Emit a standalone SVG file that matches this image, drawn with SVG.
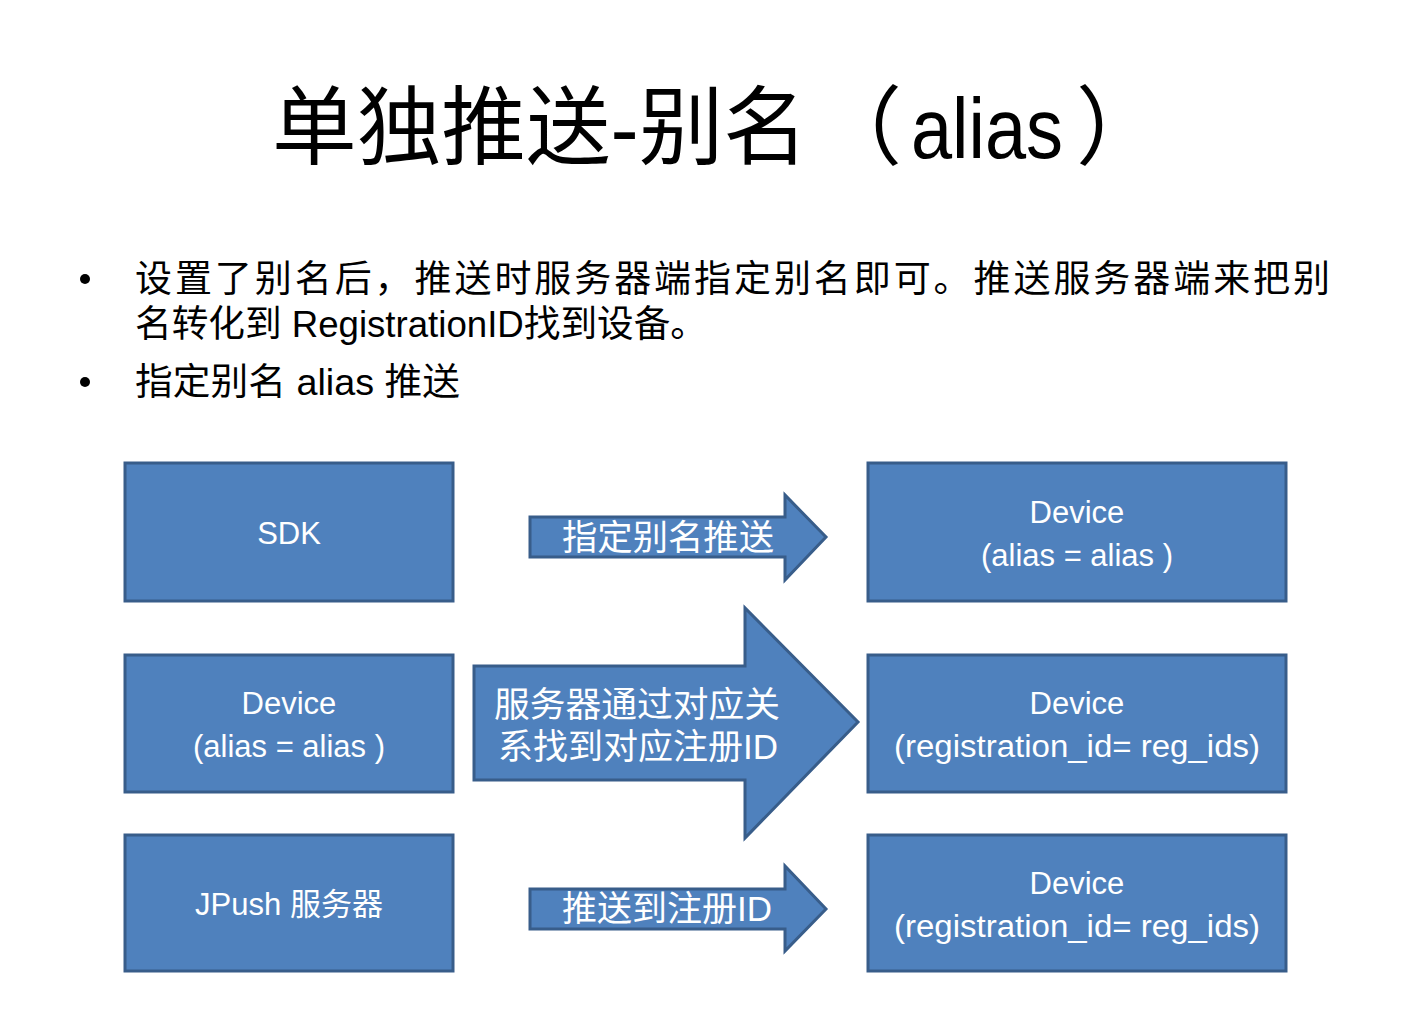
<svg xmlns="http://www.w3.org/2000/svg" width="1415" height="1035" viewBox="0 0 1415 1035">
<style>
.box{fill:#4F81BD;stroke:#385D8A;stroke-width:3}
.arr{fill:#4F81BD;stroke:#385D8A;stroke-width:3;stroke-linejoin:miter}
.t{font-family:"Liberation Sans","Noto Sans CJK SC",sans-serif}
.w{fill:#FFFFFF;font-size:31px;text-anchor:middle}
.aw{fill:#FFFFFF;font-size:35px}
.b{fill:#000000;font-size:37px}
.ti{fill:#000000;font-size:86px}
</style>
<rect width="1415" height="1035" fill="#FFFFFF"/>
<g id="title">
<text class="t ti" x="272" y="158" textLength="536" lengthAdjust="spacingAndGlyphs">单独推送-别名</text>
<text class="t ti" x="816" y="158">（</text>
<text class="t ti" transform="translate(911 158) scale(0.86 1)">alias</text>
<text class="t ti" x="1076" y="158">）</text>
</g>
<circle cx="85" cy="279" r="5" fill="#000"/>
<circle cx="85" cy="382" r="5" fill="#000"/>
<text class="t b" x="135" y="292" textLength="1195" lengthAdjust="spacing">设置了别名后，推送时服务器端指定别名即可。推送服务器端来把别</text>
<text class="t b" x="135" y="337" textLength="572" lengthAdjust="spacingAndGlyphs">名转化到 RegistrationID找到设备。</text>
<text class="t b" x="135" y="395" textLength="325" lengthAdjust="spacingAndGlyphs">指定别名 alias 推送</text>
<g id="connectors">
<path id="arrow1" class="arr" d="M530 517 H785 V495 L826 537 L785 580 V557 H530 Z"/>
<path id="arrow2" class="arr" d="M474 666 H745 V608 L858 722 L745 838 V780 H474 Z"/>
<path id="arrow3" class="arr" d="M530 889 H785 V866 L826 909 L785 951 V929 H530 Z"/>
<text class="t aw" x="562" y="550" textLength="212" lengthAdjust="spacingAndGlyphs">指定别名推送</text>
<text class="t aw" x="494" y="717" textLength="286" lengthAdjust="spacingAndGlyphs">服务器通过对应关</text>
<text class="t aw" x="498" y="759" textLength="280" lengthAdjust="spacingAndGlyphs">系找到对应注册ID</text>
<text class="t aw" x="562" y="921" textLength="210" lengthAdjust="spacingAndGlyphs">推送到注册ID</text>
</g>
<g id="sdk"><rect class="box" x="125" y="463" width="328" height="138"/><text class="t w" x="289" y="544">SDK</text></g>
<g id="device-alias-left"><rect class="box" x="125" y="655" width="328" height="137"/><text class="t w" x="289" y="714">Device</text><text class="t w" x="289" y="757">(alias = alias )</text></g>
<g id="jpush"><rect class="box" x="125" y="835" width="328" height="136"/><text class="t w" x="289" y="915">JPush 服务器</text></g>
<g id="device-alias-right"><rect class="box" x="868" y="463" width="418" height="138"/><text class="t w" x="1077" y="523">Device</text><text class="t w" x="1077" y="566">(alias = alias )</text></g>
<g id="device-reg1"><rect class="box" x="868" y="655" width="418" height="137"/><text class="t w" x="1077" y="714">Device</text><text class="t w" x="1077" y="757" textLength="366" lengthAdjust="spacingAndGlyphs">(registration_id= reg_ids)</text></g>
<g id="device-reg2"><rect class="box" x="868" y="835" width="418" height="136"/><text class="t w" x="1077" y="894">Device</text><text class="t w" x="1077" y="937" textLength="366" lengthAdjust="spacingAndGlyphs">(registration_id= reg_ids)</text></g>
</svg>
